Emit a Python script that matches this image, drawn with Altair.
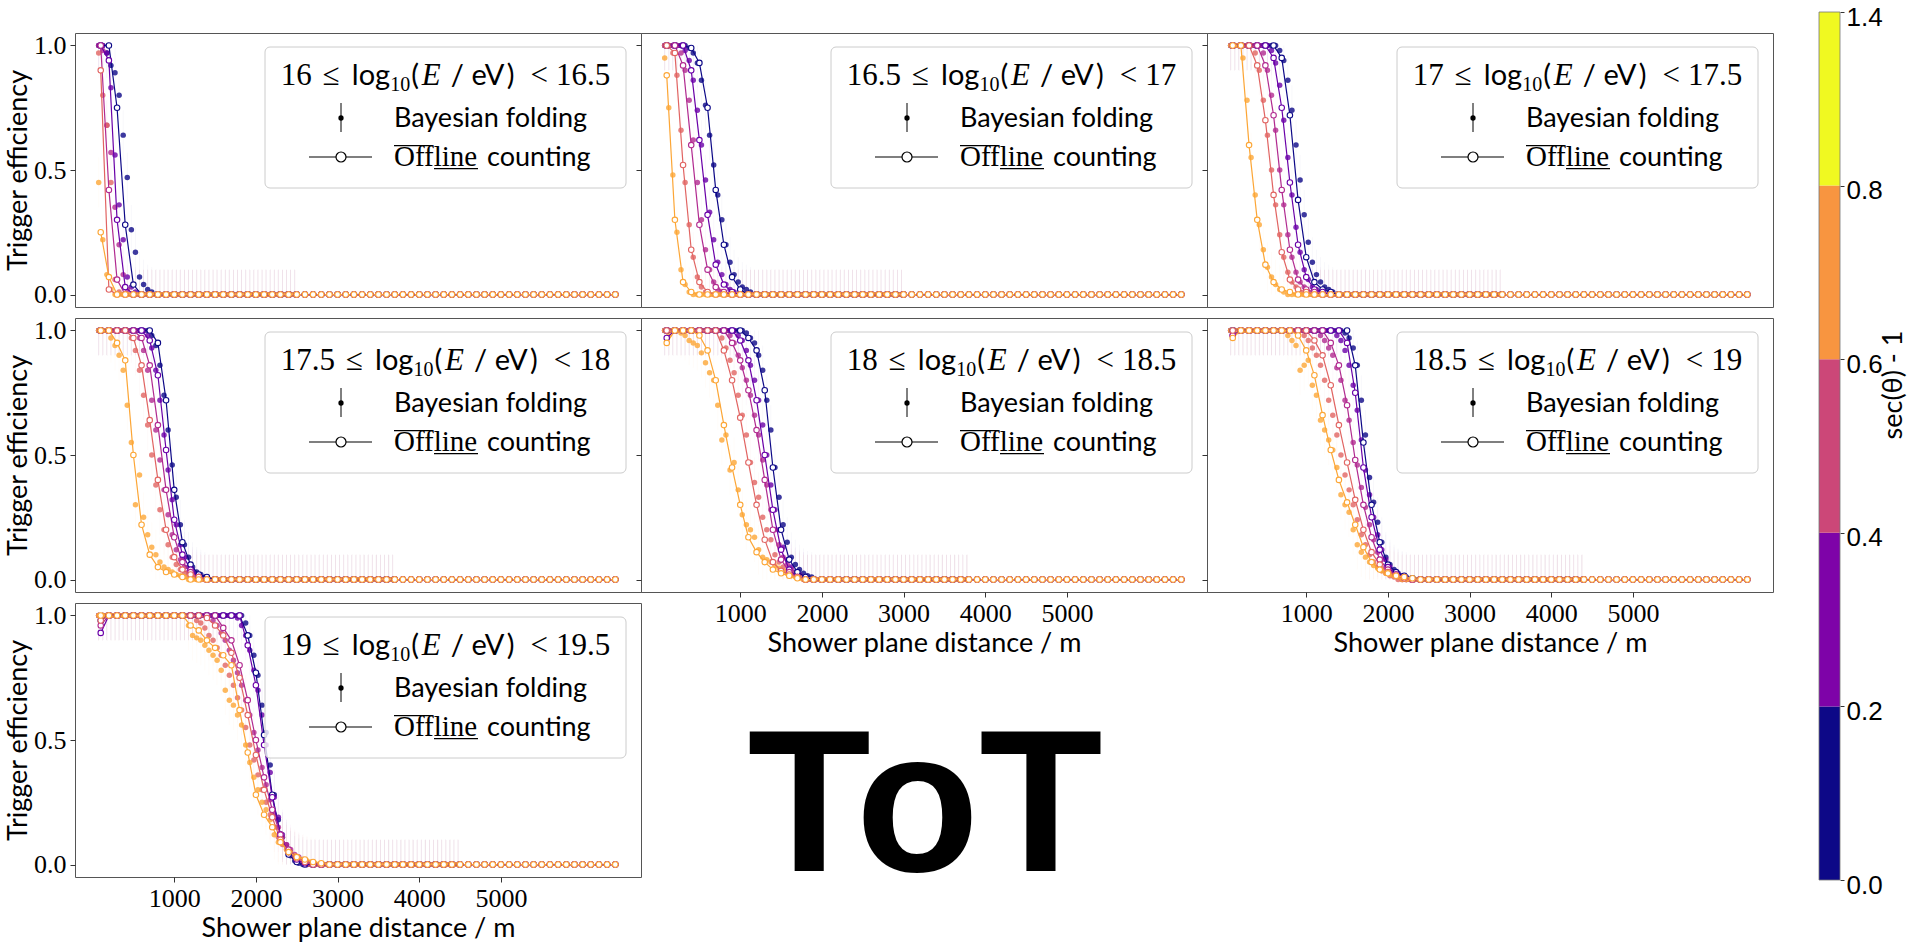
import altair as alt
import pandas as pd

# Distance bins (m): offline counting uses 100 m bins, the Bayesian folding a 50 m grid
DIST = list(range(100, 6401, 100))
BAYES_DIST = list(range(75, 6400, 50))

ZENITH_BINS = ["0.0-0.2", "0.2-0.4", "0.4-0.6", "0.6-0.8", "0.8-1.4"]
ZENITH_COLORS = ["#0d0887", "#6a00a8", "#b12a90", "#e16462", "#fca636"]

ENERGY_BINS = [("16", "16.5"), ("16.5", "17"), ("17", "17.5"), ("17.5", "18"),
               ("18", "18.5"), ("18.5", "19"), ("19", "19.5")]

X_TICKS = [1000, 2000, 3000, 4000, 5000]
Y_TICKS = [0.0, 0.5, 1.0]

CB_EDGES = ["0.0", "0.2", "0.4", "0.6", "0.8", "1.4"]
CB_COLORS = ["#0d0887", "#7e03a8", "#cc4778", "#f89540", "#f0f921"]

# Offline counting efficiency per zenith bin, from the first distance bin until the
# curve reaches zero (all further bins are zero)
OFFLINE = {
    "16": [
        [1.0, 1.0, 0.75, 0.28, 0.04],
        [1.0, 0.94, 0.30, 0.03],
        [1.0, 0.42, 0.06],
        [0.9, 0.02],
        [0.25, 0.07],
    ],
    "16.5": [
        [1.0, 1.0, 1.0, 0.99, 0.93, 0.75, 0.42, 0.2, 0.07, 0.02],
        [1.0, 1.0, 1.0, 0.9, 0.62, 0.32, 0.12, 0.04, 0.01],
        [1.0, 1.0, 0.92, 0.6, 0.28, 0.1, 0.03, 0.01],
        [1.0, 0.97, 0.52, 0.18, 0.05, 0.01],
        [0.88, 0.3, 0.05, 0.01],
    ],
    "17": [
        [1.0] * 6 + [0.95, 0.72, 0.38, 0.15, 0.05, 0.02, 0.01],
        [1.0] * 5 + [0.95, 0.75, 0.45, 0.2, 0.07, 0.02, 0.01],
        [1.0] * 4 + [0.92, 0.72, 0.42, 0.18, 0.06, 0.02, 0.01],
        [1.0] * 3 + [0.92, 0.7, 0.4, 0.17, 0.06, 0.02, 0.01],
        [1.0, 1.0, 0.6, 0.3, 0.12, 0.05, 0.02, 0.01],
    ],
    "17.5": [
        [1.0] * 7 + [0.95, 0.72, 0.36, 0.15, 0.06, 0.02, 0.01],
        [1.0] * 6 + [0.96, 0.82, 0.52, 0.24, 0.1, 0.04, 0.01],
        [1.0] * 5 + [0.97, 0.86, 0.62, 0.36, 0.17, 0.07, 0.03, 0.01],
        [1.0] * 4 + [0.97, 0.86, 0.64, 0.4, 0.2, 0.09, 0.04, 0.02, 0.01],
        [1.0, 1.0, 0.95, 0.88, 0.5, 0.22, 0.1, 0.05, 0.03, 0.02, 0.01],
    ],
    "18": [
        [1.0] * 10 + [0.97, 0.92, 0.76, 0.45, 0.2, 0.08, 0.03, 0.01],
        [0.97] + [1.0] * 8 + [0.96, 0.88, 0.72, 0.5, 0.28, 0.12, 0.04, 0.01],
        [1.0] * 8 + [0.95, 0.88, 0.76, 0.6, 0.4, 0.2, 0.08, 0.03, 0.01],
        [1.0] * 7 + [0.92, 0.8, 0.65, 0.47, 0.3, 0.16, 0.07, 0.035, 0.02, 0.01],
        [0.95, 1.0, 1.0, 1.0, 0.98, 0.92, 0.8, 0.62, 0.45, 0.3, 0.17, 0.11, 0.07,
         0.04, 0.025, 0.015, 0.005],
    ],
    "18.5": [
        [1.0] * 15 + [0.86, 0.55, 0.3, 0.15, 0.06, 0.03, 0.015, 0.005],
        [0.98] + [1.0] * 13 + [0.95, 0.75, 0.45, 0.25, 0.12, 0.05, 0.02, 0.01],
        [0.98] + [1.0] * 11 + [0.95, 0.86, 0.7, 0.48, 0.3, 0.17, 0.08, 0.04, 0.02, 0.01],
        [1.0] * 10 + [0.96, 0.9, 0.78, 0.62, 0.47, 0.32, 0.2, 0.11, 0.06, 0.03, 0.015, 0.005],
        [0.97] + [1.0] * 7 + [0.98, 0.92, 0.82, 0.66, 0.52, 0.4, 0.31, 0.22, 0.13, 0.07,
                              0.04, 0.025, 0.015, 0.01, 0.005],
    ],
    "19": [
        [0.98] + [1.0] * 17 + [0.92, 0.77, 0.52, 0.28, 0.12, 0.04, 0.01],
        [0.93] + [1.0] * 17 + [0.88, 0.72, 0.48, 0.27, 0.12, 0.05, 0.02, 0.005],
        [0.96] + [1.0] * 14 + [0.95, 0.9, 0.8, 0.66, 0.5, 0.35, 0.22, 0.12, 0.06, 0.03, 0.015, 0.005],
        [0.98] + [1.0] * 12 + [0.99, 0.96, 0.92, 0.85, 0.75, 0.6, 0.44, 0.3, 0.19, 0.1, 0.05,
                               0.025, 0.01],
        [1.0] * 11 + [0.96, 0.94, 0.9, 0.87, 0.84, 0.8, 0.62, 0.45, 0.28, 0.2, 0.15, 0.09,
                      0.05, 0.03, 0.02, 0.01, 0.005],
    ],
}

# Bayesian folding efficiency on the 50 m grid (zero after the listed values)
BAYES = {
    "16": [
        [1.0, 1.0, 0.97, 0.92, 0.89, 0.8, 0.64, 0.47, 0.26, 0.17, 0.07, 0.04, 0.02, 0.01],
        [1.0, 1.0, 0.97, 0.83, 0.56, 0.36, 0.22, 0.07, 0.03, 0.01],
        [1.0, 0.98, 0.68, 0.57, 0.35, 0.2, 0.08, 0.02],
        [0.97, 0.8, 0.68, 0.45, 0.06, 0.01],
        [0.45, 0.22, 0.08, 0.02],
    ],
    "16.5": [
        [1.0] * 6 + [0.99, 0.97, 0.93, 0.86, 0.76, 0.64, 0.52, 0.4, 0.3, 0.2, 0.13, 0.08,
                     0.05, 0.03, 0.02, 0.01],
        [1.0] * 5 + [0.98, 0.94, 0.86, 0.74, 0.6, 0.46, 0.33, 0.22, 0.13, 0.08, 0.04, 0.02, 0.01],
        [1.0] * 4 + [0.97, 0.9, 0.78, 0.62, 0.45, 0.3, 0.18, 0.1, 0.05, 0.02, 0.01],
        [1.0, 1.0, 0.97, 0.88, 0.66, 0.45, 0.28, 0.15, 0.07, 0.03, 0.01],
        [0.95, 0.75, 0.48, 0.25, 0.1, 0.04, 0.01],
    ],
    "17": [
        [1.0] * 12 + [0.98, 0.94, 0.86, 0.74, 0.6, 0.46, 0.32, 0.21, 0.13, 0.08, 0.05, 0.03,
                      0.02, 0.01],
        [1.0] * 10 + [0.98, 0.93, 0.84, 0.7, 0.55, 0.4, 0.27, 0.17, 0.1, 0.06, 0.03, 0.02, 0.01],
        [1.0] * 8 + [0.97, 0.9, 0.8, 0.66, 0.5, 0.36, 0.24, 0.15, 0.09, 0.05, 0.03, 0.01],
        [1.0] * 6 + [0.97, 0.9, 0.78, 0.64, 0.5, 0.36, 0.24, 0.15, 0.09, 0.05, 0.03, 0.01],
        [1.0, 1.0, 1.0, 0.95, 0.78, 0.55, 0.4, 0.28, 0.18, 0.11, 0.07, 0.04, 0.02, 0.01],
    ],
    "17.5": [
        [1.0] * 13 + [0.98, 0.94, 0.86, 0.74, 0.6, 0.46, 0.33, 0.22, 0.14, 0.09, 0.05, 0.03,
                      0.02, 0.01],
        [1.0] * 12 + [0.98, 0.93, 0.84, 0.72, 0.58, 0.44, 0.32, 0.22, 0.14, 0.09, 0.05, 0.03,
                      0.02, 0.01],
        [1.0] * 10 + [0.97, 0.92, 0.84, 0.72, 0.6, 0.48, 0.36, 0.26, 0.18, 0.12, 0.08, 0.05,
                      0.03, 0.02, 0.01],
        [1.0] * 8 + [0.97, 0.92, 0.84, 0.74, 0.62, 0.5, 0.38, 0.28, 0.2, 0.14, 0.09, 0.06,
                     0.04, 0.025, 0.015, 0.01],
        [1.0, 1.0, 1.0, 0.97, 0.94, 0.9, 0.84, 0.7, 0.55, 0.3, 0.42, 0.25, 0.18, 0.13, 0.1,
         0.07, 0.05, 0.04, 0.03, 0.02, 0.015, 0.01],
    ],
    "18": [
        [1.0] * 20 + [0.99, 0.97, 0.95, 0.9, 0.84, 0.72, 0.6, 0.45, 0.33, 0.22, 0.15, 0.09,
                      0.06, 0.04, 0.025, 0.015, 0.01],
        [1.0] * 18 + [0.98, 0.96, 0.92, 0.86, 0.8, 0.72, 0.62, 0.5, 0.38, 0.28, 0.2, 0.13,
                      0.08, 0.05, 0.03, 0.02, 0.01],
        [1.0] * 16 + [0.98, 0.95, 0.9, 0.85, 0.8, 0.74, 0.66, 0.58, 0.48, 0.38, 0.28, 0.2,
                      0.14, 0.09, 0.06, 0.04, 0.025, 0.015, 0.01],
        [1.0] * 14 + [0.97, 0.93, 0.88, 0.83, 0.74, 0.66, 0.58, 0.47, 0.39, 0.33, 0.25, 0.2,
                      0.16, 0.1, 0.07, 0.05, 0.035, 0.025, 0.015, 0.01],
        [1.0, 0.98, 1.0, 1.0, 0.99, 0.98, 0.96, 0.95, 0.94, 0.91, 0.87, 0.83, 0.8, 0.7, 0.56,
         0.58, 0.44, 0.47, 0.36, 0.26, 0.22, 0.2, 0.17, 0.12, 0.09, 0.08, 0.07, 0.055, 0.045,
         0.035, 0.025, 0.015, 0.01, 0.005],
    ],
    "18.5": [
        [1.0] * 28 + [0.99, 0.97, 0.93, 0.86, 0.72, 0.58, 0.41, 0.31, 0.23, 0.15, 0.09, 0.06,
                      0.04, 0.025, 0.015, 0.01],
        [1.0] * 26 + [0.98, 0.96, 0.92, 0.86, 0.78, 0.68, 0.56, 0.44, 0.34, 0.25, 0.18, 0.12,
                      0.08, 0.05, 0.03, 0.02, 0.01],
        [1.0] * 22 + [0.98, 0.96, 0.93, 0.9, 0.85, 0.8, 0.72, 0.64, 0.55, 0.46, 0.37, 0.29,
                      0.22, 0.16, 0.11, 0.08, 0.05, 0.035, 0.02, 0.01],
        [1.0] * 18 + [0.98, 0.96, 0.93, 0.9, 0.86, 0.8, 0.72, 0.66, 0.58, 0.5, 0.42, 0.36, 0.3,
                      0.24, 0.18, 0.14, 0.1, 0.07, 0.05, 0.035, 0.025, 0.015, 0.01],
        [1.0] * 14 + [0.98, 0.96, 0.94, 0.84, 0.86, 0.88, 0.78, 0.74, 0.64, 0.6, 0.56, 0.52,
                      0.45, 0.34, 0.3, 0.27, 0.2, 0.14, 0.11, 0.09, 0.07, 0.056, 0.045, 0.035,
                      0.025, 0.02, 0.015, 0.01],
    ],
    "19": [
        [1.0] * 36 + [0.97, 0.92, 0.84, 0.76, 0.64, 0.53, 0.4, 0.28, 0.18, 0.11, 0.07, 0.035,
                      0.015, 0.005],
        [1.0] * 34 + [0.99, 0.96, 0.92, 0.86, 0.78, 0.7, 0.6, 0.48, 0.37, 0.27, 0.19, 0.12,
                      0.08, 0.05, 0.03, 0.02, 0.01],
        [1.0] * 28 + [0.98, 0.96, 0.93, 0.9, 0.86, 0.82, 0.77, 0.72, 0.66, 0.6, 0.53, 0.46,
                      0.39, 0.32, 0.26, 0.2, 0.15, 0.11, 0.08, 0.06, 0.04, 0.03, 0.02, 0.01],
        [1.0] * 24 + [0.98, 0.97, 0.95, 0.92, 0.9, 0.87, 0.84, 0.8, 0.76, 0.72, 0.67, 0.62,
                      0.55, 0.48, 0.42, 0.36, 0.3, 0.25, 0.2, 0.15, 0.11, 0.08, 0.06, 0.04,
                      0.03, 0.02, 0.01],
        [1.0] * 22 + [0.96, 0.92, 0.91, 0.9, 0.88, 0.86, 0.84, 0.82, 0.78, 0.7, 0.66, 0.64,
                      0.6, 0.56, 0.48, 0.41, 0.35, 0.3, 0.25, 0.22, 0.18, 0.12, 0.09, 0.085,
                      0.06, 0.047, 0.035, 0.025, 0.02, 0.015, 0.01, 0.005],
    ],
}

# Last distance (m) with a Bayesian folding estimate in each energy bin
BAYES_END = {"16": 2500, "16.5": 3000, "17": 3400, "17.5": 3700,
             "18": 3800, "18.5": 4400, "19": 4500}
BAYES_ERR = 0.1  # half-width of the plotted credible interval

SERIF = "Liberation Serif"
SANS = "Lato"
PANEL_W, PANEL_H = 566, 274
FRAME = "#555555"

X_SCALE = alt.Scale(domain=[-215, 6715], nice=False, zero=False)
Y_SCALE = alt.Scale(domain=[-0.05, 1.05], nice=False, zero=False)
Z_SCALE = alt.Scale(domain=ZENITH_BINS, range=ZENITH_COLORS)

ONE_ROW = pd.DataFrame({"k": [0]})


def offline_frame(key):
    rows = []
    for z, vals in zip(ZENITH_BINS, OFFLINE[key]):
        full = vals + [0.0] * (len(DIST) - len(vals))
        for d, v in zip(DIST, full):
            rows.append({"d": d, "eff": v, "z": z})
    return pd.DataFrame(rows)


def bayes_frame(key):
    rows = []
    grid = [d for d in BAYES_DIST if d <= BAYES_END[key]]
    for z, vals in zip(ZENITH_BINS, BAYES[key]):
        full = vals + [0.0] * max(0, len(grid) - len(vals))
        for d, v in zip(grid, full):
            rows.append({"d": d, "eff": v, "lo": max(0.0, v - BAYES_ERR),
                         "hi": min(1.0, v + BAYES_ERR), "z": z})
    return pd.DataFrame(rows)


def x_axis(show):
    if not show:
        return None
    return alt.Axis(values=X_TICKS, format="d", title="Shower plane distance / m",
                    labelFont=SERIF, labelFontSize=26, labelColor="black",
                    titleFont=SANS, titleFontSize=27, titleFontWeight="normal",
                    titleColor="black", tickSize=5, tickColor="#333333", domain=False,
                    grid=False, labelPadding=3, titlePadding=4)


def y_axis(show):
    return alt.Axis(values=Y_TICKS, format=".1f", labels=show,
                    title="Trigger efficiency" if show else None,
                    labelFont=SERIF, labelFontSize=26, labelColor="black",
                    titleFont=SANS, titleFontSize=27, titleFontWeight="normal",
                    titleColor="black", tickSize=5, tickColor="#333333", domain=False,
                    grid=False, labelPadding=4, titlePadding=1)


def txt(x, y, s, font, size, style="normal", align="left", angle=0, weight="normal",
        color="black", baseline="alphabetic"):
    return alt.Chart(ONE_ROW).mark_text(
        text=s, font=font, fontSize=size, fontStyle=style, fontWeight=weight,
        align=align, baseline=baseline, color=color, angle=angle,
    ).encode(x=alt.value(x), y=alt.value(y))


# Legend title pieces: (text, font, size, style, baseline offset, advance in em, gap after)
def title_pieces(lo, hi):
    return [
        (lo, SERIF, 31, "normal", 0, 0.5 * len(lo.replace(".", "")) + 0.25 * lo.count("."), 11),
        ("≤", SERIF, 31, "normal", 0, 0.549, 12),
        ("log", SANS, 29, "normal", 0, 1.32, 0),
        ("10", SERIF, 20, "normal", 6, 1.0, 1),
        ("(", SANS, 29, "normal", 0, 0.30, 2),
        ("E", SERIF, 31, "italic", 0, 0.611, 10),
        ("/", SANS, 29, "normal", 0, 0.37, 10),
        ("eV", SANS, 29, "normal", 0, 1.18, 1),
        (")", SANS, 29, "normal", 0, 0.30, 15),
        ("<", SERIF, 31, "normal", 0, 0.564, 8),
        (hi, SERIF, 31, "normal", 0, 0.5 * len(hi.replace(".", "")) + 0.25 * hi.count("."), 0),
    ]


def legend_layers(lo, hi):
    box = alt.Chart(ONE_ROW).mark_rect(
        fill="white", fillOpacity=0.8, stroke="#cccccc", strokeWidth=1, cornerRadius=5
    ).encode(x=alt.value(190), x2=alt.value(551), y=alt.value(14), y2=alt.value(155))
    base = 52
    pieces = title_pieces(lo, hi)
    total = sum(p[2] * p[5] + p[6] for p in pieces)
    cursor = 370.5 - total / 2
    title = []
    for text, font, size, style, dy, em, gap in pieces:
        title.append(txt(cursor, base + dy, text, font, size, style=style))
        cursor += size * em + gap
    bayes_bar = alt.Chart(ONE_ROW).mark_rule(color="black", strokeWidth=1).encode(
        x=alt.value(266), y=alt.value(70), y2=alt.value(99))
    bayes_dot = alt.Chart(ONE_ROW).mark_point(
        shape="circle", filled=True, color="black", size=28, opacity=1
    ).encode(x=alt.value(266), y=alt.value(85))
    off_line = alt.Chart(ONE_ROW).mark_rule(color="black", strokeWidth=1.2).encode(
        x=alt.value(234), x2=alt.value(297), y=alt.value(124))
    off_dot = alt.Chart(ONE_ROW).mark_point(
        shape="circle", filled=False, fill="white", fillOpacity=1, stroke="black",
        strokeWidth=1.2, size=100, opacity=1
    ).encode(x=alt.value(266), y=alt.value(124))
    over = alt.Chart(ONE_ROW).mark_rule(color="black", strokeWidth=1.3).encode(
        x=alt.value(319), x2=alt.value(357), y=alt.value(112.7))
    under = alt.Chart(ONE_ROW).mark_rule(color="black", strokeWidth=1.3).encode(
        x=alt.value(359), x2=alt.value(403), y=alt.value(135.7))
    labels = [
        txt(319, 94, "Bayesian folding", SANS, 27),
        txt(319, 133.4, "Offline", SERIF, 29),
        txt(412, 133.4, "counting", SANS, 27),
    ]
    return [box] + title + [bayes_bar, bayes_dot, off_line, off_dot, over, under] + labels


def panel(idx, show_x, show_y, extra=()):
    lo, hi = ENERGY_BINS[idx]
    off = offline_frame(lo)
    bay = bayes_frame(lo)
    xa = x_axis(show_x)
    ya = y_axis(show_y)
    x = alt.X("d:Q", scale=X_SCALE, axis=xa)
    color = alt.Color("z:N", scale=Z_SCALE, legend=None)

    err = alt.Chart(bay).mark_rule(strokeWidth=1, opacity=0.03).encode(
        x=x, y=alt.Y("lo:Q", scale=Y_SCALE, axis=ya), y2="hi:Q", color=color)
    dots = alt.Chart(bay).mark_circle(size=30, opacity=0.8).encode(
        x=x, y=alt.Y("eff:Q", scale=Y_SCALE, axis=ya), color=color)
    lines = alt.Chart(off).mark_line(strokeWidth=1.2).encode(
        x=x, y=alt.Y("eff:Q", scale=Y_SCALE, axis=ya), color=color)
    rings = alt.Chart(off).mark_point(
        shape="circle", filled=False, fill="white", fillOpacity=1, size=30,
        strokeWidth=1.1, opacity=1
    ).encode(x=x, y=alt.Y("eff:Q", scale=Y_SCALE, axis=ya),
             stroke=alt.Stroke("z:N", scale=Z_SCALE, legend=None))

    layers = [err, dots, lines, rings] + legend_layers(lo, hi) + list(extra)
    return alt.layer(*layers).properties(
        width=PANEL_W, height=PANEL_H,
        view=alt.ViewBackground(stroke=FRAME, strokeWidth=1),
    )


tot = txt(284, 553, "ToT", "Liberation Sans", 202, align="center", weight="bold")

grid = alt.concat(
    panel(0, False, True), panel(1, False, False), panel(2, False, False),
    panel(3, False, True), panel(4, True, False, [tot]), panel(5, True, False),
    panel(6, True, True),
    columns=3, spacing={"row": 11, "column": 0}, bounds="flush",
)

# Discrete colour bar for sec(theta) - 1, equal height per bin; it reaches above
# and below the panel grid
cb_df = pd.DataFrame({"lo": list(range(5)), "hi": list(range(1, 6)), "c": CB_COLORS})
cb_frame_df = pd.DataFrame({"lo": [0], "hi": [5]})
label_expr = "[" + ",".join("'%s'" % t for t in CB_EDGES) + "][datum.value]"
cb_scale = alt.Scale(domain=[0, 5], range=[847, -21], nice=False, zero=False)
cb_axis = alt.Axis(orient="right", values=[0, 1, 2, 3, 4, 5], labelExpr=label_expr,
                   title=None, labelFont="Liberation Sans", labelFontSize=26,
                   labelColor="black", tickSize=4, tickColor="#333333",
                   domain=False, grid=False, labelPadding=2, labelOffset=5)
cb_rect = alt.Chart(cb_df).mark_rect().encode(
    x=alt.value(0), x2=alt.value(21),
    y=alt.Y("lo:Q", scale=cb_scale, axis=cb_axis), y2="hi:Q",
    color=alt.Color("c:N", scale=None),
)
cb_outline = alt.Chart(cb_frame_df).mark_rect(
    fill="transparent", stroke="#777777", strokeWidth=0.8
).encode(
    x=alt.value(0), x2=alt.value(21),
    y=alt.Y("lo:Q", scale=cb_scale, axis=cb_axis), y2="hi:Q",
)
cb_title = txt(83, 352, "sec(θ) - 1", SANS, 27, align="center", angle=270)
colorbar = alt.layer(cb_rect, cb_outline, cb_title).properties(width=21, height=844)

chart = alt.hconcat(grid, colorbar, spacing=44).properties(
    padding={"left": 4, "top": 4, "right": 2, "bottom": 0},
    background="white",
).configure_view(strokeWidth=0)

chart.save("out.html", embed_options={"renderer": "svg", "actions": False})
